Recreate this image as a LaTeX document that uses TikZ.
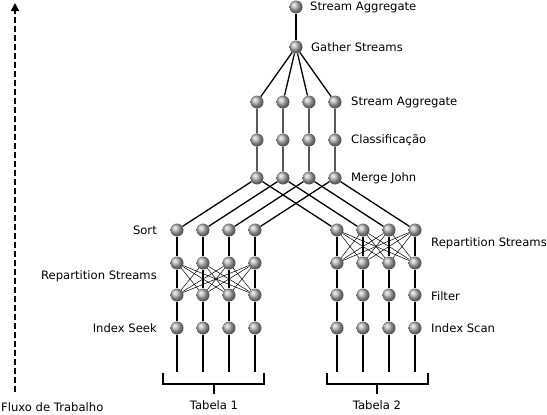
\documentclass[tikz,border=0pt]{standalone}
\usepackage{fontspec}
\setmainfont{DejaVu Sans}
\usetikzlibrary{arrows.meta}
\tikzset{
  ball/.style={circle,inner sep=0pt,minimum size=13pt,shading=ball,ball color=gray!60},
  lbl/.style={font=\fontsize{11.6}{13}\selectfont,inner sep=0pt},
  pipe/.style={line width=1.3pt},
  xchg/.style={line width=0.5pt},
  brace/.style={line width=1.4pt},
}
\begin{document}
\begin{tikzpicture}[x=1pt,y=-1pt]
 \useasboundingbox (0,0) rectangle (547,415);
 \node[ball] (sa) at (296,7) {};
 \node[ball] (gs) at (296,47) {};
 \foreach \i/\x in {1/257,2/283,3/309,4/335}{
  \node[ball] (agg\i) at (\x,102) {};
  \node[ball] (cls\i) at (\x,140) {};
  \node[ball] (mj\i) at (\x,178) {};
 }
 \foreach \i/\x in {1/177,2/203,3/229,4/255}{
  \node[ball] (srt\i) at (\x,230) {};
  \node[ball] (lrt\i) at (\x,263) {};
  \node[ball] (lrb\i) at (\x,295) {};
  \node[ball] (seek\i) at (\x,328) {};
  \coordinate (lend\i) at (\x,372);
 }
 \foreach \i/\x in {1/337,2/363,3/389,4/415}{
  \node[ball] (rrt\i) at (\x,230) {};
  \node[ball] (rrb\i) at (\x,263) {};
  \node[ball] (flt\i) at (\x,295) {};
  \node[ball] (scan\i) at (\x,328) {};
  \coordinate (rend\i) at (\x,372);
 }
 \draw[pipe] (sa) -- (gs);
 \foreach \i in {1,...,4}{
  \draw[pipe] (gs) -- (agg\i) -- (cls\i) -- (mj\i);
  \draw[pipe] (mj\i) -- (srt\i);
  \draw[pipe] (mj\i) -- (rrt\i);
  \draw[pipe] (srt\i) -- (lrt\i) -- (lrb\i) -- (seek\i) -- (lend\i);
  \draw[pipe] (rrt\i) -- (rrb\i) -- (flt\i) -- (scan\i) -- (rend\i);
  \foreach \j in {1,...,4}{
   \draw[xchg] (lrt\i) -- (lrb\j);
   \draw[xchg] (rrt\i) -- (rrb\j);
  }
 }
 \draw[brace] (163,373) -- (163,384) -- (264,384) -- (264,373);
 \draw[brace] (214,384) -- (214,394);
 \draw[brace] (327,373) -- (327,384) -- (428,384) -- (428,373);
 \draw[brace] (377,384) -- (377,394);
 \draw[line width=1.6pt,dash pattern=on 6pt off 3pt,-{Triangle[length=8pt,width=8pt]}] (15,392) -- (15,3);
 \node[lbl,anchor=west] (lsa) at (310,7) {Stream Aggregate};
 \node[lbl,anchor=west] (lgs) at (311,47) {Gather Streams};
 \node[lbl,anchor=west] (lagg) at (351,102) {Stream Aggregate};
 \node[lbl,anchor=west] (lcls) at (351,140) {Classificação};
 \node[lbl,anchor=west] (lmj) at (351,178) {Merge John};
 \node[lbl,anchor=east] (lsrt) at (157,230) {Sort};
 \node[lbl,anchor=east] (lrep) at (157,276) {Repartition Streams};
 \node[lbl,anchor=east] (lseek) at (157,328) {Index Seek};
 \node[lbl,anchor=west] (rrep) at (431,243) {Repartition Streams};
 \node[lbl,anchor=west] (rflt) at (431,296) {Filter};
 \node[lbl,anchor=west] (rscan) at (431,328) {Index Scan};
 \node[lbl] (tab1) at (214,405) {Tabela 1};
 \node[lbl] (tab2) at (377,405) {Tabela 2};
 \node[lbl,anchor=west] (flow) at (1,407) {Fluxo de Trabalho};
\end{tikzpicture}
\end{document}
